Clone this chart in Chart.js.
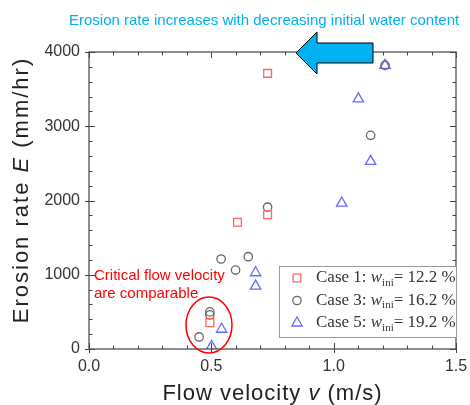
<!DOCTYPE html>
<html>
<head>
<meta charset="utf-8">
<script src="https://cdn.jsdelivr.net/npm/chart.js@4"></script>
<style>
  html, body { margin: 0; padding: 0; background: #fff; }
  #wrap { width: 470px; height: 405px; }
</style>
</head>
<body>
<div id="wrap"><canvas id="chart" width="470" height="405"></canvas></div>
<script>
// data
const case1V = [0.494, 0.607, 0.73, 0.73];
const case1E = [355, 1707, 1807, 3712];
const case3V = [0.45, 0.494, 0.494, 0.54, 0.599, 0.651, 0.73, 1.151, 1.21];
const case3E = [162, 460, 500, 1212, 1063, 1243, 1910, 2878, 3820];
const case5V = [0.501, 0.542, 0.681, 0.681, 1.033, 1.101, 1.151, 1.21];
const case5E = [35, 266, 847, 1027, 1964, 3369, 2527, 3820];

const legendCases = ['Case 1: ', 'Case 3: ', 'Case 5: '];
const legendWater = ['12.2', '16.2', '19.2'];

const xTicks = [0, 0.5, 1.0, 1.5];
const yTicks = [0, 1000, 2000, 3000, 4000];

const toPts = (vs, es) => vs.map((v, i) => ({ x: v, y: es[i] }));

const RED = '#ff6464', GREY = '#666666', BLUE = '#6a6aff';

// frame, inward ticks, annotations and legend
const decor = {
    id: 'decor',
    afterDraw(chart) {
        const ctx = chart.ctx;
        const a = chart.chartArea;
        const xs = chart.scales.x, ys = chart.scales.y;
        ctx.save();
        ctx.strokeStyle = '#444';
        ctx.lineWidth = 1.2;
        ctx.strokeRect(a.left, a.top, a.right - a.left, a.bottom - a.top);

        ctx.lineWidth = 1;
        for (let i = 0; i <= 15; i++) {
            const v = i / 10;
            const px = Math.round(xs.getPixelForValue(v)) + 0.5;
            const major = i % 5 === 0;
            const len = major ? 6 : 3.5;
            ctx.beginPath();
            ctx.moveTo(px, a.bottom + (major ? 4 : 0)); ctx.lineTo(px, a.bottom - len);
            ctx.moveTo(px, a.top); ctx.lineTo(px, a.top + len);
            ctx.stroke();
        }
        for (let i = 0; i <= 20; i++) {
            const val = i * 200;
            const py = Math.round(ys.getPixelForValue(val)) + 0.5;
            const major = i % 5 === 0;
            const len = major ? 6 : 3.5;
            ctx.beginPath();
            ctx.moveTo(a.left - (major ? 4 : 0), py); ctx.lineTo(a.left + len, py);
            ctx.moveTo(a.right, py); ctx.lineTo(a.right - len, py);
            ctx.stroke();
        }

        // axis titles
        ctx.fillStyle = '#222';
        ctx.textBaseline = 'middle';
        const drawParts = (parts, x, y, align, spacing) => {
            ctx.letterSpacing = (spacing || 0) + 'px';
            let w = 0;
            parts.forEach(p => { ctx.font = p[1]; w += ctx.measureText(p[0]).width; });
            let cx = align === 'center' ? x - w / 2 : x;
            ctx.textAlign = 'left';
            parts.forEach(p => {
                ctx.font = p[1];
                ctx.fillText(p[0], cx, y + (p[2] || 0));
                cx += ctx.measureText(p[0]).width;
            });
            ctx.letterSpacing = '0px';
        };
        const tf = '22px "Liberation Sans", Arial, sans-serif';
        const tfi = 'italic 22px "Liberation Sans", Arial, sans-serif';
        drawParts([['Flow velocity ', tf], ['v', tfi], [' (m/s)', tf]], (a.left + a.right) / 2, 394, 'center', 1);
        ctx.save();
        ctx.translate(22, 190);
        ctx.rotate(-Math.PI / 2);
        drawParts([['Erosion rate ', tf], ['E', tfi], [' (mm/hr)', tf]], 0, 0, 'center', 2);
        ctx.restore();

        // top annotation
        ctx.fillStyle = '#00b0f0';
        ctx.font = '15px "Liberation Sans", Arial, sans-serif';
        ctx.textAlign = 'left';
        ctx.fillText('Erosion rate increases with decreasing initial water content', 69, 21);

        // arrow
        ctx.beginPath();
        ctx.moveTo(296, 53);
        ctx.lineTo(317, 32);
        ctx.lineTo(317, 43);
        ctx.lineTo(373, 43);
        ctx.lineTo(373, 63);
        ctx.lineTo(317, 63);
        ctx.lineTo(317, 74);
        ctx.closePath();
        ctx.fillStyle = '#00b0f0';
        ctx.fill();
        ctx.strokeStyle = '#000';
        ctx.lineWidth = 1;
        ctx.stroke();

        // red note and ellipse
        ctx.fillStyle = '#ff0000';
        ctx.font = '15px "Liberation Sans", Arial, sans-serif';
        ctx.fillText('Critical flow velocity', 94, 276);
        ctx.fillText('are comparable', 94, 294);
        ctx.beginPath();
        ctx.ellipse(209, 325, 23, 28, 0, 0, Math.PI * 2);
        ctx.strokeStyle = '#ff0000';
        ctx.lineWidth = 1.5;
        ctx.stroke();

        // legend
        const lx = 279, ly = 266, lw = 177, lh = 71;
        ctx.fillStyle = '#fff';
        ctx.fillRect(lx, ly, lw, lh);
        ctx.strokeStyle = '#999';
        ctx.lineWidth = 1;
        ctx.strokeRect(lx + 0.5, ly + 0.5, lw, lh);
        const styles = [['rect', RED, 5.5], ['circle', GREY, 4.2], ['triangle', BLUE, 6]];
        const nf = '17px "Liberation Serif", "Times New Roman", serif';
        const nfi = 'italic 17px "Liberation Serif", "Times New Roman", serif';
        const sf = '11px "Liberation Serif", "Times New Roman", serif';
        for (let i = 0; i < 3; i++) {
            const ry = 278 + i * 22.5;
            ctx.strokeStyle = styles[i][1];
            ctx.fillStyle = 'rgba(0,0,0,0)';
            ctx.lineWidth = 1.3;
            Chart.helpers.drawPoint(ctx, { pointStyle: styles[i][0], radius: styles[i][2], borderWidth: 1.3 }, 297, ry);
            ctx.fillStyle = '#333';
            drawParts([[legendCases[i], nf], ['w', nfi], ['ini', sf, 5], ['= ' + legendWater[i] + ' %', nf]], 316, ry, 'left');
        }
        ctx.restore();
    }
};

const ctx = document.getElementById('chart').getContext('2d');
new Chart(ctx, {
    type: 'scatter',
    data: {
        datasets: [
            { label: 'Case 1', data: toPts(case1V, case1E), pointStyle: 'rect', pointRadius: 5.5, borderColor: RED, backgroundColor: 'rgba(0,0,0,0)', pointBorderWidth: 1.3 },
            { label: 'Case 3', data: toPts(case3V, case3E), pointStyle: 'circle', pointRadius: 4.2, borderColor: GREY, backgroundColor: 'rgba(0,0,0,0)', pointBorderWidth: 1.3 },
            { label: 'Case 5', data: toPts(case5V, case5E), pointStyle: 'triangle', pointRadius: 6, borderColor: BLUE, backgroundColor: 'rgba(0,0,0,0)', pointBorderWidth: 1.3 }
        ]
    },
    options: {
        responsive: false,
        animation: false,
        layout: { padding: { top: 52, right: 14, left: 0, bottom: 0 } },
        plugins: { legend: { display: false }, tooltip: { enabled: false } },
        scales: {
            x: {
                type: 'linear', min: 0, max: 1.5,
                afterBuildTicks: s => { s.ticks = xTicks.map(v => ({ value: v })); },
                afterFit: s => { s.height = 56; s.paddingLeft = 0; s.paddingRight = 0; },
                grid: { display: false }, border: { display: false },
                ticks: { color: '#333', font: { size: 16, family: '"Liberation Sans", Arial, sans-serif' }, padding: 0, callback: v => v.toFixed(1) }
            },
            y: {
                type: 'linear', min: 0, max: 4000,
                afterBuildTicks: s => { s.ticks = yTicks.map(v => ({ value: v })); },
                afterFit: s => { s.width = 89; s.paddingTop = 0; s.paddingBottom = 0; },
                grid: { display: false }, border: { display: false },
                ticks: { color: '#333', font: { size: 16, family: '"Liberation Sans", Arial, sans-serif' }, padding: 1, callback: v => String(v) }
            }
        }
    },
    plugins: [decor]
});
</script>
</body>
</html>
